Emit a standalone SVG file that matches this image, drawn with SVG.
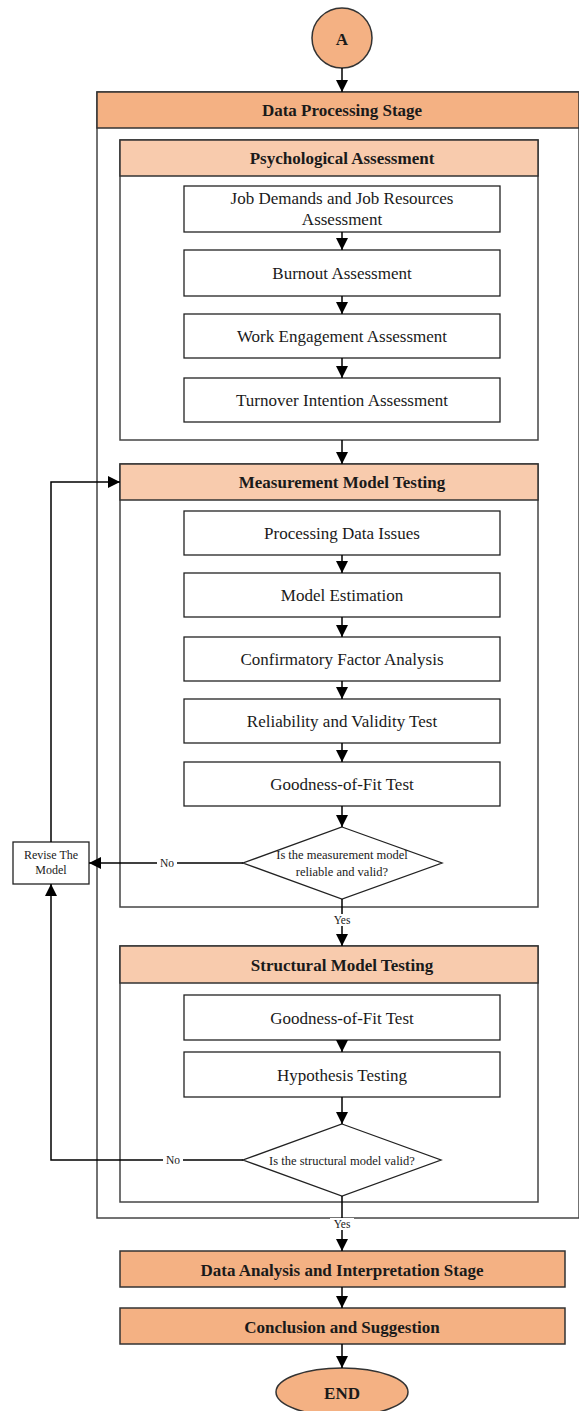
<svg xmlns="http://www.w3.org/2000/svg" width="579" height="1411" viewBox="0 0 579 1411" font-family="'Liberation Serif', 'DejaVu Serif', serif">
<style>
text{font-family:'Liberation Serif','Times New Roman','DejaVu Serif',serif;fill:#1a1a1a;text-anchor:middle;dominant-baseline:central}
.h{font-weight:bold;font-size:17px}
.b{font-size:17px}
.s{font-size:12.5px}
.r{font-size:12px}
.m{font-size:11.5px}
.main{fill:#F4B183;stroke:#333;stroke-width:1.5}
.sec{fill:#F8CBAD;stroke:#333;stroke-width:1.5}
.frame{fill:#fff;stroke:#444;stroke-width:1.5}
.box{fill:#fff;stroke:#222;stroke-width:1.3}
.ln{fill:none;stroke:#000;stroke-width:1.5}
.bg{fill:#fff}
</style>
<defs>
<marker id="ah2" viewBox="0 0 10 10" refX="10" refY="5" markerWidth="12" markerHeight="12" markerUnits="userSpaceOnUse" orient="auto"><path d="M0,0 L10,5 L0,10 z" fill="#000"/></marker>
</defs>
<g id="stage-frame"><rect class="frame" x="97" y="92" width="482" height="1126"/></g>
<g id="start"><circle class="main" cx="342" cy="38" r="30"/><text class="h" x="342" y="39">A</text></g>
<g id="data-processing"><rect class="main" x="97" y="92" width="482" height="36"/><text class="h" x="342" y="110">Data Processing Stage</text></g>
<g id="psych">
<rect class="frame" x="120" y="140" width="418" height="300"/>
<rect class="sec" x="120" y="140" width="418" height="36"/><text class="h" x="342" y="158">Psychological Assessment</text>
</g>
<g id="jd"><rect class="box" x="184" y="186" width="316" height="46"/><text class="b" x="342" y="198">Job Demands and Job Resources</text><text class="b" x="342" y="219">Assessment</text></g>
<g id="burnout"><rect class="box" x="184" y="250" width="316" height="46"/><text class="b" x="342" y="273">Burnout Assessment</text></g>
<g id="engage"><rect class="box" x="184" y="314" width="316" height="44"/><text class="b" x="342" y="336">Work Engagement Assessment</text></g>
<g id="turnover"><rect class="box" x="184" y="378" width="316" height="44"/><text class="b" x="342" y="400">Turnover Intention Assessment</text></g>
<g id="measure">
<rect class="frame" x="120" y="464" width="418" height="443"/>
<rect class="sec" x="120" y="464" width="418" height="36"/><text class="h" x="342" y="482">Measurement Model Testing</text>
</g>
<g id="pdi"><rect class="box" x="184" y="511" width="316" height="44"/><text class="b" x="342" y="533">Processing Data Issues</text></g>
<g id="me"><rect class="box" x="184" y="573" width="316" height="44"/><text class="b" x="342" y="595">Model Estimation</text></g>
<g id="cfa"><rect class="box" x="184" y="637" width="316" height="44"/><text class="b" x="342" y="659">Confirmatory Factor Analysis</text></g>
<g id="rvt"><rect class="box" x="184" y="699" width="316" height="44"/><text class="b" x="342" y="721">Reliability and Validity Test</text></g>
<g id="gof1"><rect class="box" x="184" y="762" width="316" height="44"/><text class="b" x="342" y="784">Goodness-of-Fit Test</text></g>
<g id="dec1"><polygon class="box" points="342,827 442,863 342,899 243,863"/><text class="s" x="342" y="855">Is the measurement model</text><text class="s" x="342" y="872">reliable and valid?</text></g>
<g id="revise"><rect class="box" x="13" y="842" width="76" height="42"/><text class="r" x="51" y="855">Revise The</text><text class="r" x="51" y="870">Model</text></g>
<g id="struct">
<rect class="frame" x="120" y="946" width="418" height="256"/>
<rect class="sec" x="120" y="946" width="418" height="37"/><text class="h" x="342" y="965">Structural Model Testing</text>
</g>
<g id="gof2"><rect class="box" x="184" y="995" width="316" height="45"/><text class="b" x="342" y="1018">Goodness-of-Fit Test</text></g>
<g id="hyp"><rect class="box" x="184" y="1052" width="316" height="45"/><text class="b" x="342" y="1075">Hypothesis Testing</text></g>
<g id="dec2"><polygon class="box" points="342,1124 441,1160 342,1196 243,1160"/><text class="s" x="342" y="1161">Is the structural model valid?</text></g>
<g id="analysis"><rect class="main" x="120" y="1251" width="445" height="36"/><text class="h" x="342" y="1270">Data Analysis and Interpretation Stage</text></g>
<g id="conclusion"><rect class="main" x="120" y="1308" width="445" height="36"/><text class="h" x="342" y="1327">Conclusion and Suggestion</text></g>
<g id="end"><ellipse class="main" cx="342" cy="1392" rx="66" ry="24"/><text class="h" x="342" y="1393">END</text></g>
<g id="connectors">
<line class="ln" x1="342" y1="68" x2="342" y2="92" marker-end="url(#ah2)"/>
<line class="ln" x1="342" y1="232" x2="342" y2="250" marker-end="url(#ah2)"/>
<line class="ln" x1="342" y1="296" x2="342" y2="314" marker-end="url(#ah2)"/>
<line class="ln" x1="342" y1="358" x2="342" y2="378" marker-end="url(#ah2)"/>
<line class="ln" x1="342" y1="440" x2="342" y2="464" marker-end="url(#ah2)"/>
<line class="ln" x1="342" y1="555" x2="342" y2="573" marker-end="url(#ah2)"/>
<line class="ln" x1="342" y1="617" x2="342" y2="637" marker-end="url(#ah2)"/>
<line class="ln" x1="342" y1="681" x2="342" y2="699" marker-end="url(#ah2)"/>
<line class="ln" x1="342" y1="743" x2="342" y2="762" marker-end="url(#ah2)"/>
<line class="ln" x1="342" y1="806" x2="342" y2="827" marker-end="url(#ah2)"/>
<line class="ln" x1="243" y1="863" x2="89" y2="863" marker-end="url(#ah2)"/>
<rect class="bg" x="157" y="857" width="20" height="12"/>
<text class="m" x="167" y="863">No</text>
<polyline class="ln" points="51,842 51,482 120,482" marker-end="url(#ah2)"/>
<line class="ln" x1="342" y1="899" x2="342" y2="946" marker-end="url(#ah2)"/>
<rect class="bg" x="330" y="914" width="24" height="12"/>
<text class="m" x="342" y="920">Yes</text>
<line class="ln" x1="342" y1="1040" x2="342" y2="1052" marker-end="url(#ah2)"/>
<line class="ln" x1="342" y1="1097" x2="342" y2="1124" marker-end="url(#ah2)"/>
<polyline class="ln" points="243,1160 51,1160 51,884" marker-end="url(#ah2)"/>
<rect class="bg" x="163" y="1154" width="20" height="12"/>
<text class="m" x="173" y="1160">No</text>
<line class="ln" x1="342" y1="1196" x2="342" y2="1251" marker-end="url(#ah2)"/>
<rect class="bg" x="330" y="1218" width="24" height="12"/>
<text class="m" x="342" y="1224">Yes</text>
<line class="ln" x1="342" y1="1287" x2="342" y2="1308" marker-end="url(#ah2)"/>
<line class="ln" x1="342" y1="1344" x2="342" y2="1368" marker-end="url(#ah2)"/>
</g>
</svg>
